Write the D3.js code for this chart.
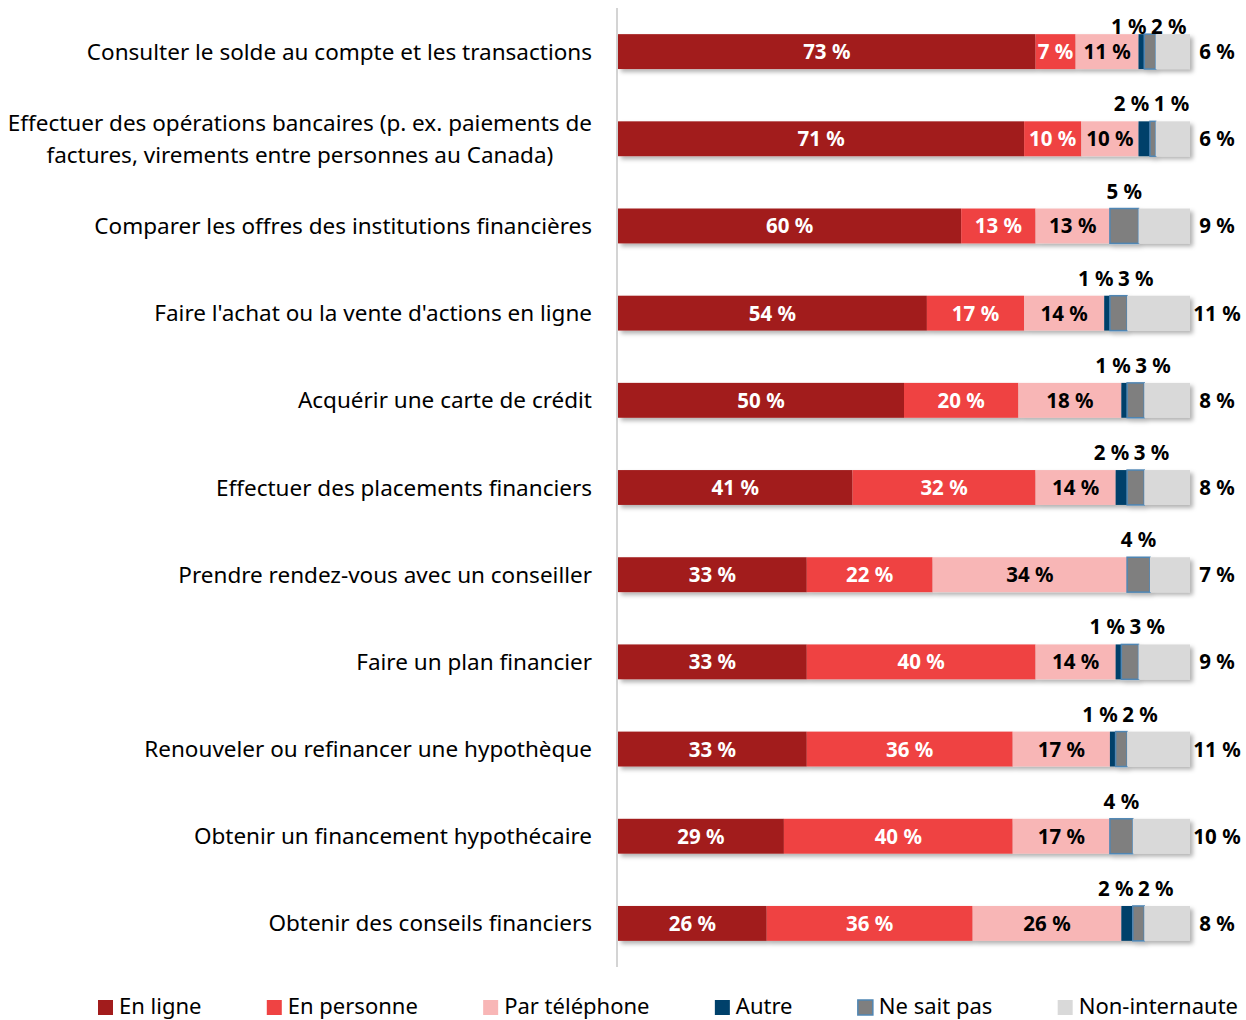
<!DOCTYPE html>
<html>
<head>
<meta charset="utf-8">
<script src="https://cdn.jsdelivr.net/npm/d3@7"></script>
<style>
  body { margin: 0; background: #fff; }
  text { font-family: "Noto Sans", "Open Sans", sans-serif; }
</style>
</head>
<body>
<svg id="chart" width="1246" height="1020"></svg>
<script>
// categories, top to bottom
var categories = [
  "Consulter le solde au compte et les transactions",
  "Effectuer des opérations bancaires (p. ex. paiements de\nfactures, virements entre personnes au Canada)",
  "Comparer les offres des institutions financières",
  "Faire l'achat ou la vente d'actions en ligne",
  "Acquérir une carte de crédit",
  "Effectuer des placements financiers",
  "Prendre rendez-vous avec un conseiller",
  "Faire un plan financier",
  "Renouveler ou refinancer une hypothèque",
  "Obtenir un financement hypothécaire",
  "Obtenir des conseils financiers"
];

// percentages per series (0 = no label shown)
var enLigne = [73, 71, 60, 54, 50, 41, 33, 33, 33, 29, 26];
var enPersonne = [7, 10, 13, 17, 20, 32, 22, 40, 36, 40, 36];
var parTelephone = [11, 10, 13, 14, 18, 14, 34, 14, 17, 17, 26];
var autre = [1, 2, 0, 1, 1, 2, 0, 1, 1, 0, 2];
var neSaitPas = [2, 1, 5, 3, 3, 3, 4, 3, 2, 4, 2];
var nonInternaute = [6, 6, 9, 11, 8, 8, 7, 9, 11, 10, 8];

var seriesNames = ["En ligne", "En personne", "Par téléphone", "Autre", "Ne sait pas", "Non-internaute"];
var seriesColors = ["#a21c1c", "#ef4343", "#f8b6b6", "#00416b", "#7f7f7f", "#d9d9d9"];

var seriesValues = [enLigne, enPersonne, parTelephone, autre, neSaitPas, nonInternaute];

var rows = categories.map(function(c, i) {
  var r = { cat: c, idx: i };
  seriesNames.forEach(function(s, j) { r[s] = seriesValues[j][i]; });
  return r;
});

var svg = d3.select("#chart");

var x = d3.scaleLinear().domain([0, 100]).range([618, 1190]);
var y = d3.scaleBand().domain(d3.range(categories.length))
  .range([8, 967]).paddingInner(0.6).paddingOuter(0.3);

// soft shadow under the bars
var defs = svg.append("defs");
var f = defs.append("filter").attr("id", "shadow")
  .attr("x", "-5%").attr("y", "-30%").attr("width", "110%").attr("height", "180%");
f.append("feDropShadow").attr("dx", 3).attr("dy", 3)
  .attr("stdDeviation", 2).attr("flood-color", "#000").attr("flood-opacity", 0.3);

// vertical axis line
svg.append("line")
  .attr("x1", 617).attr("x2", 617).attr("y1", 8).attr("y2", 967)
  .attr("stroke", "#d4d4d4").attr("stroke-width", 2);

var stacked = d3.stack().keys(seriesNames)(rows);

var barG = svg.append("g").attr("filter", "url(#shadow)");
stacked.forEach(function(layer, j) {
  barG.selectAll(null).data(layer).enter()
    .append("rect")
    .attr("x", function(d) { return x(d[0]); })
    .attr("y", function(d) { return y(d.data.idx); })
    .attr("width", function(d) { return x(d[1]) - x(d[0]); })
    .attr("height", y.bandwidth())
    .attr("fill", seriesColors[j])
    .attr("stroke", j === 4 ? "#4f86b4" : "none")
    .attr("stroke-width", j === 4 ? 1.5 : 0)
    .style("display", function(d) { return d[1] - d[0] > 0 ? null : "none"; });
});

// value labels
var labelG = svg.append("g")
  .attr("font-weight", "bold").attr("font-size", "20.5px");
var bh = y.bandwidth();

stacked.forEach(function(layer, j) {
  layer.forEach(function(d, i) {
    var v = d[1] - d[0];
    if (v <= 0) return;
    var cy = y(i) + bh / 2;
    if (j < 3) {
      labelG.append("text")
        .attr("x", (x(d[0]) + x(d[1])) / 2).attr("y", cy + 7.5)
        .attr("text-anchor", "middle")
        .attr("fill", j === 2 ? "#000" : "#fff")
        .text(v + " %");
    } else if (j === 5) {
      labelG.append("text")
        .attr("x", x(100) + 27).attr("y", cy + 7.5)
        .attr("text-anchor", "middle")
        .attr("fill", "#000")
        .text(v + " %");
    }
  });
});

// small segments (Autre, Ne sait pas) get labels above the bar, pushed apart
// and kept inside the plot area
rows.forEach(function(r, i) {
  var a = stacked[3][i], n = stacked[4][i];
  var ty = Math.max(y(i) - 10, 34);
  var ca = (x(a[0]) + x(a[1])) / 2, cn = (x(n[0]) + x(n[1])) / 2;
  var la = r["Autre"], ln = r["Ne sait pas"];
  if (la > 0 && ln > 0) {
    var mid = (ca + cn) / 2 + 3;
    ca = mid - 20;
    cn = mid + 20;
  }
  if (la > 0) {
    labelG.append("text").attr("x", ca).attr("y", ty)
      .attr("text-anchor", "middle").text(la + " %");
  }
  if (ln > 0) {
    labelG.append("text").attr("x", cn).attr("y", ty)
      .attr("text-anchor", "middle").text(ln + " %");
  }
});

// category labels
var catG = svg.append("g").attr("font-size", "22.5px").attr("fill", "#000");
categories.forEach(function(c, i) {
  var lines = c.split("\n");
  var cy = y(i) + bh / 2;
  var lh = 32;
  var t = catG.append("text");
  lines.forEach(function(line, k) {
    t.append("tspan").attr("x", 0)
      .attr("y", cy + 8 + (k - (lines.length - 1) / 2) * lh)
      .text(line);
  });
  if (lines.length === 1) {
    t.attr("text-anchor", "end").selectAll("tspan").attr("x", 592);
  } else {
    var maxW = 0;
    t.selectAll("tspan").each(function() {
      maxW = Math.max(maxW, this.getComputedTextLength());
    });
    t.attr("text-anchor", "middle").selectAll("tspan").attr("x", 592 - maxW / 2);
  }
});

// legend, spread evenly between the left and right edge
var legG = svg.append("g").attr("font-size", "22px");
var legLeft = 98, legRight = 1238, sw = 15, tOff = 21;
var items = seriesNames.map(function(s, j) {
  var g = legG.append("g");
  g.append("rect")
    .attr("y", 1000).attr("width", sw).attr("height", sw)
    .attr("fill", seriesColors[j])
    .attr("stroke", j === 4 ? "#4f86b4" : "none")
    .attr("stroke-width", j === 4 ? 1.5 : 0);
  var t = g.append("text").attr("x", tOff).attr("y", 1014).text(s);
  return { g: g, w: tOff + t.node().getComputedTextLength() };
});
var totalW = d3.sum(items, function(d) { return d.w; });
var gap = (legRight - legLeft - totalW) / (items.length - 1);
var lx = legLeft;
items.forEach(function(it) {
  it.g.attr("transform", "translate(" + lx + ",0)");
  lx += it.w + gap;
});
</script>
</body>
</html>
